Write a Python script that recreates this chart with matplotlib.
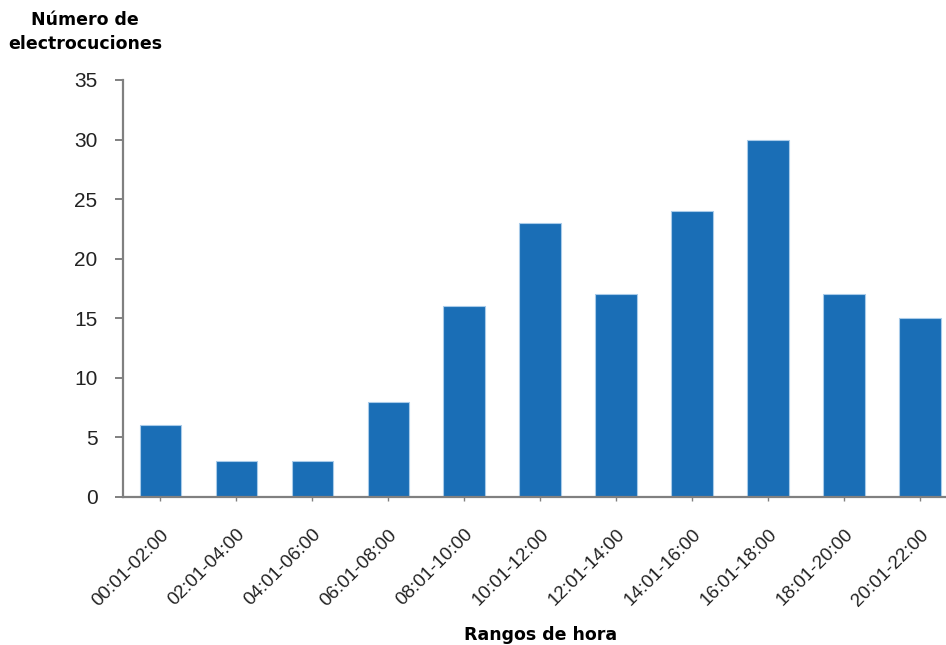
import matplotlib
matplotlib.use('Agg')
from matplotlib import pyplot as plt

# data
rangos = ['00:01-02:00', '02:01-04:00', '04:01-06:00', '06:01-08:00', '08:01-10:00',
          '10:01-12:00', '12:01-14:00', '14:01-16:00', '16:01-18:00', '18:01-20:00',
          '20:01-22:00']
electrocuciones = [6, 3, 3, 8, 16, 23, 17, 24, 30, 17, 15]
yticks = [0, 5, 10, 15, 20, 25, 30, 35]

bar_blue = '#1a6eb6'
axis_grey = '#808080'

fig = plt.figure(figsize=(9.46, 6.45), dpi=100)
ax = fig.add_axes([0.1295, 0.2295, 0.8705, 0.6465])

x = list(range(len(rangos)))
ax.bar(x, electrocuciones, width=0.55, color=bar_blue, edgecolor='#a9cbe9', linewidth=0.8)

ax.set_xlim(-0.5, 10.34)
ax.set_ylim(0, 35)
ax.set_yticks(yticks)
ax.set_yticklabels([str(v) for v in yticks], fontsize=15, family='Liberation Sans', color='#222222')
ax.set_xticks(x)
ax.set_xticklabels(rangos, rotation=45, ha='right', rotation_mode='anchor',
                   fontsize=13.5, family='Liberation Sans', color='#222222')

for side in ['top', 'right']:
    ax.spines[side].set_visible(False)
for side in ['left', 'bottom']:
    ax.spines[side].set_color(axis_grey)
    ax.spines[side].set_linewidth(1.6)
ax.tick_params(axis='y', color=axis_grey, width=1.4, length=6, pad=12)
ax.tick_params(axis='x', color=axis_grey, width=1.0, length=3, pad=18)

fig.text(0.09, 0.95, 'Número de\nelectrocuciones', ha='center', va='center',
         fontsize=12.5, fontweight='bold', family='DejaVu Sans', linespacing=1.45)
fig.text(0.571, 0.015, 'Rangos de hora', ha='center', va='center',
         fontsize=12.5, fontweight='bold', family='DejaVu Sans')

fig.savefig('out.png', dpi=100)
